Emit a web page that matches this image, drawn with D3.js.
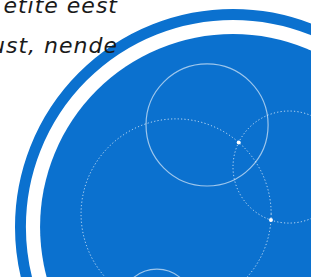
<!DOCTYPE html>
<html>
<head>
<meta charset="utf-8">
<script src="https://cdn.jsdelivr.net/npm/d3@7"></script>
<style>
  html, body { margin: 0; padding: 0; background: #fff; overflow: hidden; }
  svg { display: block; }
</style>
</head>
<body>
<div id="chart"></div>
<script>
// chart values in data units (big disc radius = 100)
const ringRadii = [100, 95, 88.5];          // outer ring edge, ring inner edge, disc edge
const orbitNames = ["a", "b", "c", "d"];
const orbitX = [-11.9, -26.1, 25.7, -34.9];
const orbitY = [-46.8, -6.0, -27.5, 35.8];
const orbitR = [28, 43.6, 25.7, 16.5];
const orbitDashed = [false, true, true, false];
const textLines = ["etite eest", "ust, nende"];

const width = 311;
const height = 277;
const svg = d3.select("#chart")
    .append("svg")
    .attr("width", width)
    .attr("height", height);

// data units -> pixels
const x = d3.scaleLinear().domain([0, 100]).range([233, 233 + 218]);
const y = d3.scaleLinear().domain([0, 100]).range([227, 227 + 218]);
const r = d3.scaleLinear().domain([0, 100]).range([0, 218]);

const blue = "#0b71cf";

// outer ring
svg.append("circle")
    .attr("cx", x(0)).attr("cy", y(0))
    .attr("r", r((ringRadii[0] + ringRadii[1]) / 2))
    .attr("fill", "none")
    .attr("stroke", blue)
    .attr("stroke-width", r(ringRadii[0] - ringRadii[1]));

// main disc
svg.append("circle")
    .attr("cx", x(0)).attr("cy", y(0))
    .attr("r", r(ringRadii[2]))
    .attr("fill", blue);

const orbits = orbitNames.map((n, i) => ({
    name: n, x: orbitX[i], y: orbitY[i], r: orbitR[i], dashed: orbitDashed[i]
}));

svg.append("g")
    .selectAll("circle")
    .data(orbits)
    .enter()
    .append("circle")
    .attr("cx", d => x(d.x))
    .attr("cy", d => y(d.y))
    .attr("r", d => r(d.r))
    .attr("fill", "none")
    .attr("stroke", "#fff")
    .attr("stroke-opacity", d => d.dashed ? 0.75 : 0.6)
    .attr("stroke-width", d => d.dashed ? 1 : 1.2)
    .attr("stroke-dasharray", d => d.dashed ? "1.2 2.2" : null);

// dots where the two dashed orbits cross
function crossings(a, b) {
    const dx = b.x - a.x, dy = b.y - a.y;
    const dist = Math.hypot(dx, dy);
    const l = (a.r * a.r - b.r * b.r + dist * dist) / (2 * dist);
    const h = Math.sqrt(Math.max(0, a.r * a.r - l * l));
    const mx = a.x + l * dx / dist, my = a.y + l * dy / dist;
    return [
        { x: mx + h * dy / dist, y: my - h * dx / dist },
        { x: mx - h * dy / dist, y: my + h * dx / dist }
    ];
}
const dots = crossings(orbits[1], orbits[2]);

svg.append("g")
    .selectAll("circle")
    .data(dots)
    .enter()
    .append("circle")
    .attr("cx", d => x(d.x))
    .attr("cy", d => y(d.y))
    .attr("r", 2)
    .attr("fill", "#fff");

// text
svg.append("g")
    .selectAll("text")
    .data(textLines)
    .enter()
    .append("text")
    .attr("x", 118)
    .attr("y", (d, i) => 12.5 + i * 40.5)
    .attr("text-anchor", "end")
    .attr("font-family", "'DejaVu Sans', sans-serif")
    .attr("font-style", "italic")
    .attr("font-size", 22)
    .attr("letter-spacing", 1)
    .attr("fill", "#1a1a1a")
    .text(d => d);
</script>
</body>
</html>
